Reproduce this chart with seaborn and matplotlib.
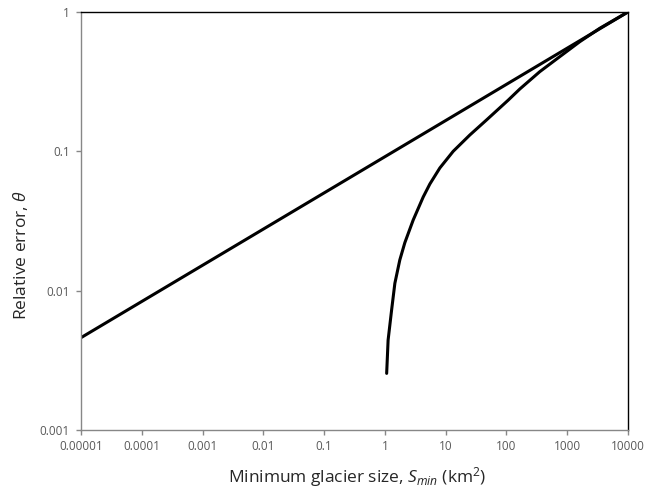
import numpy as np
import pandas as pd
import matplotlib
matplotlib.use("Agg")
import matplotlib.pyplot as plt
import seaborn as sns

# straight line (power law) end points
line_x = [0.00001, 10000]
line_y = [0.0046, 1.0]

# curved line
curve_x = [1.07, 1.13, 1.29, 1.46, 1.76, 2.13, 2.92, 4.27, 5.5, 8.03, 13.3, 25.0, 47.1, 107, 166, 354, 755, 1611, 3437, 10000]
curve_y = [0.00255, 0.00442, 0.00726, 0.0113, 0.0166, 0.0221, 0.0321, 0.047, 0.0583, 0.076, 0.100, 0.131, 0.168, 0.233, 0.28, 0.373, 0.478, 0.612, 0.764, 1.0]

x_ticks = [0.00001, 0.0001, 0.001, 0.01, 0.1, 1, 10, 100, 1000, 10000]
x_labels = ["0.00001", "0.0001", "0.001", "0.01", "0.1", "1", "10", "100", "1000", "10000"]
y_ticks = [0.001, 0.01, 0.1, 1]
y_labels = ["0.001", "0.01", "0.1", "1"]

sns.set_style("white")
plt.rcParams["font.family"] = ["Open Sans", "DejaVu Sans"]
plt.rcParams["mathtext.fontset"] = "custom"
plt.rcParams["mathtext.rm"] = "Open Sans"
plt.rcParams["mathtext.it"] = "Open Sans:italic"

df_line = pd.DataFrame({"x": line_x, "y": line_y})
df_curve = pd.DataFrame({"x": curve_x, "y": curve_y})

fig, ax = plt.subplots(figsize=(6.47, 4.91), dpi=100)
fig.subplots_adjust(left=0.1252, right=0.9706, top=0.9756, bottom=0.1242)

sns.lineplot(data=df_line, x="x", y="y", color="black", lw=2.2, ax=ax)
sns.lineplot(data=df_curve, x="x", y="y", color="black", lw=2.2, ax=ax, sort=False)

ax.set_xscale("log")
ax.set_yscale("log")
ax.set_xlim(0.00001, 10000)
ax.set_ylim(0.001, 1)
ax.set_xticks(x_ticks)
ax.set_xticklabels(x_labels)
ax.set_yticks(y_ticks)
ax.set_yticklabels(y_labels)
ax.minorticks_off()

ax.tick_params(axis="both", direction="out", length=3.5, width=1, color="#878787",
               labelsize=8.5, labelcolor="#595959", bottom=True, left=True)
ax.tick_params(axis="x", pad=3.6)
ax.tick_params(axis="y", pad=4.5)
for side in ["left", "bottom"]:
    ax.spines[side].set_color("#878787")
    ax.spines[side].set_linewidth(1)
for side in ["top", "right"]:
    ax.spines[side].set_color("black")
    ax.spines[side].set_linewidth(1)

ax.set_xlabel(r"Minimum glacier size, $S_{min}$ (km$^2$)", fontsize=12.5)
ax.set_ylabel(r"Relative error, $\theta$", fontsize=12.5)
ax.xaxis.set_label_coords(0.505, -0.084)
ax.yaxis.set_label_coords(-0.093, 0.419)

fig.savefig("out.png", dpi=100)
